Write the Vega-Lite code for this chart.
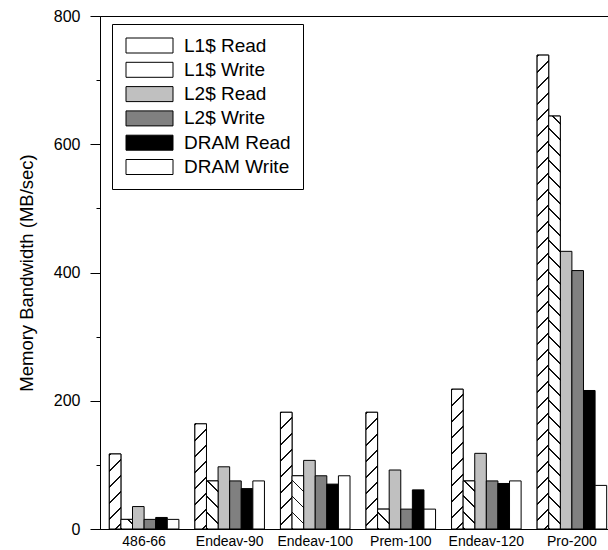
{
  "$schema": "https://vega.github.io/schema/vega-lite/v6.json",
  "width": 512,
  "height": 513,
  "autosize": {"type": "none"},
  "padding": {"left": 100, "top": 16, "right": 0, "bottom": 21},
  "params": [
    {"name": "hatch", "value": [
      {"offset": 0, "color": "#111"}, {"offset": 0.0038, "color": "#111"}, {"offset": 0.0038, "color": "#fff"}, {"offset": 0.03125, "color": "#fff"},
      {"offset": 0.03125, "color": "#111"}, {"offset": 0.03505, "color": "#111"}, {"offset": 0.03505, "color": "#fff"}, {"offset": 0.0625, "color": "#fff"},
      {"offset": 0.0625, "color": "#111"}, {"offset": 0.0663, "color": "#111"}, {"offset": 0.0663, "color": "#fff"}, {"offset": 0.09375, "color": "#fff"},
      {"offset": 0.09375, "color": "#111"}, {"offset": 0.09755, "color": "#111"}, {"offset": 0.09755, "color": "#fff"}, {"offset": 0.125, "color": "#fff"},
      {"offset": 0.125, "color": "#111"}, {"offset": 0.1288, "color": "#111"}, {"offset": 0.1288, "color": "#fff"}, {"offset": 0.15625, "color": "#fff"},
      {"offset": 0.15625, "color": "#111"}, {"offset": 0.16005, "color": "#111"}, {"offset": 0.16005, "color": "#fff"}, {"offset": 0.1875, "color": "#fff"},
      {"offset": 0.1875, "color": "#111"}, {"offset": 0.1913, "color": "#111"}, {"offset": 0.1913, "color": "#fff"}, {"offset": 0.21875, "color": "#fff"},
      {"offset": 0.21875, "color": "#111"}, {"offset": 0.22255, "color": "#111"}, {"offset": 0.22255, "color": "#fff"}, {"offset": 0.25, "color": "#fff"},
      {"offset": 0.25, "color": "#111"}, {"offset": 0.2538, "color": "#111"}, {"offset": 0.2538, "color": "#fff"}, {"offset": 0.28125, "color": "#fff"},
      {"offset": 0.28125, "color": "#111"}, {"offset": 0.28505, "color": "#111"}, {"offset": 0.28505, "color": "#fff"}, {"offset": 0.3125, "color": "#fff"},
      {"offset": 0.3125, "color": "#111"}, {"offset": 0.3163, "color": "#111"}, {"offset": 0.3163, "color": "#fff"}, {"offset": 0.34375, "color": "#fff"},
      {"offset": 0.34375, "color": "#111"}, {"offset": 0.34755, "color": "#111"}, {"offset": 0.34755, "color": "#fff"}, {"offset": 0.375, "color": "#fff"},
      {"offset": 0.375, "color": "#111"}, {"offset": 0.3788, "color": "#111"}, {"offset": 0.3788, "color": "#fff"}, {"offset": 0.40625, "color": "#fff"},
      {"offset": 0.40625, "color": "#111"}, {"offset": 0.41005, "color": "#111"}, {"offset": 0.41005, "color": "#fff"}, {"offset": 0.4375, "color": "#fff"},
      {"offset": 0.4375, "color": "#111"}, {"offset": 0.4413, "color": "#111"}, {"offset": 0.4413, "color": "#fff"}, {"offset": 0.46875, "color": "#fff"},
      {"offset": 0.46875, "color": "#111"}, {"offset": 0.47255, "color": "#111"}, {"offset": 0.47255, "color": "#fff"}, {"offset": 0.5, "color": "#fff"},
      {"offset": 0.5, "color": "#111"}, {"offset": 0.5038, "color": "#111"}, {"offset": 0.5038, "color": "#fff"}, {"offset": 0.53125, "color": "#fff"},
      {"offset": 0.53125, "color": "#111"}, {"offset": 0.53505, "color": "#111"}, {"offset": 0.53505, "color": "#fff"}, {"offset": 0.5625, "color": "#fff"},
      {"offset": 0.5625, "color": "#111"}, {"offset": 0.5663, "color": "#111"}, {"offset": 0.5663, "color": "#fff"}, {"offset": 0.59375, "color": "#fff"},
      {"offset": 0.59375, "color": "#111"}, {"offset": 0.59755, "color": "#111"}, {"offset": 0.59755, "color": "#fff"}, {"offset": 0.625, "color": "#fff"},
      {"offset": 0.625, "color": "#111"}, {"offset": 0.6288, "color": "#111"}, {"offset": 0.6288, "color": "#fff"}, {"offset": 0.65625, "color": "#fff"},
      {"offset": 0.65625, "color": "#111"}, {"offset": 0.66005, "color": "#111"}, {"offset": 0.66005, "color": "#fff"}, {"offset": 0.6875, "color": "#fff"},
      {"offset": 0.6875, "color": "#111"}, {"offset": 0.6913, "color": "#111"}, {"offset": 0.6913, "color": "#fff"}, {"offset": 0.71875, "color": "#fff"},
      {"offset": 0.71875, "color": "#111"}, {"offset": 0.72255, "color": "#111"}, {"offset": 0.72255, "color": "#fff"}, {"offset": 0.75, "color": "#fff"},
      {"offset": 0.75, "color": "#111"}, {"offset": 0.7538, "color": "#111"}, {"offset": 0.7538, "color": "#fff"}, {"offset": 0.78125, "color": "#fff"},
      {"offset": 0.78125, "color": "#111"}, {"offset": 0.78505, "color": "#111"}, {"offset": 0.78505, "color": "#fff"}, {"offset": 0.8125, "color": "#fff"},
      {"offset": 0.8125, "color": "#111"}, {"offset": 0.8163, "color": "#111"}, {"offset": 0.8163, "color": "#fff"}, {"offset": 0.84375, "color": "#fff"},
      {"offset": 0.84375, "color": "#111"}, {"offset": 0.84755, "color": "#111"}, {"offset": 0.84755, "color": "#fff"}, {"offset": 0.875, "color": "#fff"},
      {"offset": 0.875, "color": "#111"}, {"offset": 0.8788, "color": "#111"}, {"offset": 0.8788, "color": "#fff"}, {"offset": 0.90625, "color": "#fff"},
      {"offset": 0.90625, "color": "#111"}, {"offset": 0.91005, "color": "#111"}, {"offset": 0.91005, "color": "#fff"}, {"offset": 0.9375, "color": "#fff"},
      {"offset": 0.9375, "color": "#111"}, {"offset": 0.9413, "color": "#111"}, {"offset": 0.9413, "color": "#fff"}, {"offset": 0.96875, "color": "#fff"},
      {"offset": 0.96875, "color": "#111"}, {"offset": 0.97255, "color": "#111"}, {"offset": 0.97255, "color": "#fff"}, {"offset": 1, "color": "#fff"}
    ]}
  ],
  "data": {"values": [
    {"machine": "486-66", "series": "L1$ Read", "bw": 117},
    {"machine": "486-66", "series": "L1$ Write", "bw": 15},
    {"machine": "486-66", "series": "L2$ Read", "bw": 35},
    {"machine": "486-66", "series": "L2$ Write", "bw": 15},
    {"machine": "486-66", "series": "DRAM Read", "bw": 18},
    {"machine": "486-66", "series": "DRAM Write", "bw": 15},
    {"machine": "Endeav-90", "series": "L1$ Read", "bw": 164},
    {"machine": "Endeav-90", "series": "L1$ Write", "bw": 75},
    {"machine": "Endeav-90", "series": "L2$ Read", "bw": 97},
    {"machine": "Endeav-90", "series": "L2$ Write", "bw": 75},
    {"machine": "Endeav-90", "series": "DRAM Read", "bw": 63},
    {"machine": "Endeav-90", "series": "DRAM Write", "bw": 75},
    {"machine": "Endeav-100", "series": "L1$ Read", "bw": 182},
    {"machine": "Endeav-100", "series": "L1$ Write", "bw": 83},
    {"machine": "Endeav-100", "series": "L2$ Read", "bw": 107},
    {"machine": "Endeav-100", "series": "L2$ Write", "bw": 83},
    {"machine": "Endeav-100", "series": "DRAM Read", "bw": 70},
    {"machine": "Endeav-100", "series": "DRAM Write", "bw": 83},
    {"machine": "Prem-100", "series": "L1$ Read", "bw": 182},
    {"machine": "Prem-100", "series": "L1$ Write", "bw": 31},
    {"machine": "Prem-100", "series": "L2$ Read", "bw": 92},
    {"machine": "Prem-100", "series": "L2$ Write", "bw": 31},
    {"machine": "Prem-100", "series": "DRAM Read", "bw": 61},
    {"machine": "Prem-100", "series": "DRAM Write", "bw": 31},
    {"machine": "Endeav-120", "series": "L1$ Read", "bw": 218},
    {"machine": "Endeav-120", "series": "L1$ Write", "bw": 75},
    {"machine": "Endeav-120", "series": "L2$ Read", "bw": 118},
    {"machine": "Endeav-120", "series": "L2$ Write", "bw": 75},
    {"machine": "Endeav-120", "series": "DRAM Read", "bw": 71},
    {"machine": "Endeav-120", "series": "DRAM Write", "bw": 75},
    {"machine": "Pro-200", "series": "L1$ Read", "bw": 739},
    {"machine": "Pro-200", "series": "L1$ Write", "bw": 644},
    {"machine": "Pro-200", "series": "L2$ Read", "bw": 433},
    {"machine": "Pro-200", "series": "L2$ Write", "bw": 403},
    {"machine": "Pro-200", "series": "DRAM Read", "bw": 216},
    {"machine": "Pro-200", "series": "DRAM Write", "bw": 68}
  ]},
  "encoding": {
    "x": {
      "field": "machine", "type": "nominal",
      "sort": ["486-66", "Endeav-90", "Endeav-100", "Prem-100", "Endeav-120", "Pro-200"],
      "scale": {"range": [0, 516], "paddingInner": 0.187, "paddingOuter": 0.109},
      "axis": {"title": null, "ticks": false, "labelAngle": 0, "labelFontSize": 14, "labelPadding": 5, "labelColor": "black", "domainColor": "black"}
    },
    "xOffset": {
      "field": "series", "type": "nominal",
      "scale": {"domain": ["L1$ Read", "L1$ Write", "L2$ Read", "L2$ Write", "DRAM Read", "DRAM Write"], "paddingInner": 0, "paddingOuter": 0}
    },
    "y": {
      "field": "bw", "type": "quantitative", "stack": null,
      "scale": {"domain": [0, 800], "nice": false},
      "axis": {
        "title": "Memory Bandwidth (MB/sec)",
        "values": [0, 100, 200, 300, 400, 500, 600, 700, 800],
        "labelExpr": "datum.value % 200 === 0 ? datum.label : ''",
        "tickSize": {"condition": {"test": "datum.value % 200 === 0", "value": 10}, "value": 4},
        "labelPadding": 10,
        "grid": false,
        "domainColor": "black", "tickColor": "black",
        "labelFontSize": 16, "labelColor": "black",
        "titleFontSize": 18.5, "titleFontWeight": "normal", "titleColor": "black", "titlePadding": 17
      }
    }
  },
  "layer": [
    {
      "mark": {"type": "bar", "stroke": "black", "strokeWidth": 1},
      "encoding": {
        "color": {
          "field": "series", "type": "nominal",
          "scale": {"domain": ["L1$ Read", "L1$ Write", "L2$ Read", "L2$ Write", "DRAM Read", "DRAM Write"], "range": ["#ffffff", "#ffffff", "#c0c0c0", "#808080", "#000000", "#ffffff"]},
          "legend": {
            "orient": "none", "legendX": 12, "legendY": 8, "title": null,
            "symbolType": "M-1,-1H5.267V1H-1Z", "symbolSize": 225,
            "symbolStrokeColor": "black", "symbolStrokeWidth": 1, "symbolOpacity": 1,
            "labelFontSize": 19, "labelColor": "black", "labelOffset": 41, "rowPadding": 4.3,
            "padding": 12, "strokeColor": "black", "fillColor": "white",
            "encode": {"symbols": {"update": {
              "fill": {"value": {"expr": "datum.value === 'L1$ Read' ? {gradient: 'linear', x1: 0, y1: 0, x2: 7.415, y2: 2.366, stops: hatch} : datum.value === 'L1$ Write' ? {gradient: 'linear', x1: 0, y1: 1, x2: 7.415, y2: -1.366, stops: hatch} : scale('color', datum.value)"}},
              "stroke": {"value": "black"},
              "strokeWidth": {"value": 1}
            }}}
          }
        }
      }
    },
    {
      "transform": [{"filter": "datum.series === 'L1$ Read' || datum.series === 'L1$ Write'"}],
      "mark": {
        "type": "bar", "stroke": "black", "strokeWidth": 1,
        "fill": {"expr": "datum.series === 'L1$ Read' ? {gradient: 'linear', x1: 0, y1: 0, x2: 512 * bandwidth('xOffset') / (bandwidth('xOffset') * bandwidth('xOffset') + (scale('y', 0) - scale('y', datum.bw)) * (scale('y', 0) - scale('y', datum.bw))), y2: 512 * (scale('y', 0) - scale('y', datum.bw)) / (bandwidth('xOffset') * bandwidth('xOffset') + (scale('y', 0) - scale('y', datum.bw)) * (scale('y', 0) - scale('y', datum.bw))), stops: hatch} : {gradient: 'linear', x1: 0, y1: 1, x2: 512 * bandwidth('xOffset') / (bandwidth('xOffset') * bandwidth('xOffset') + (scale('y', 0) - scale('y', datum.bw)) * (scale('y', 0) - scale('y', datum.bw))), y2: 1 - 512 * (scale('y', 0) - scale('y', datum.bw)) / (bandwidth('xOffset') * bandwidth('xOffset') + (scale('y', 0) - scale('y', datum.bw)) * (scale('y', 0) - scale('y', datum.bw))), stops: hatch}"}
      }
    }
  ],
  "config": {
    "font": "Liberation Sans",
    "view": {"stroke": "black", "strokeWidth": 1},
    "background": "white"
  }
}
